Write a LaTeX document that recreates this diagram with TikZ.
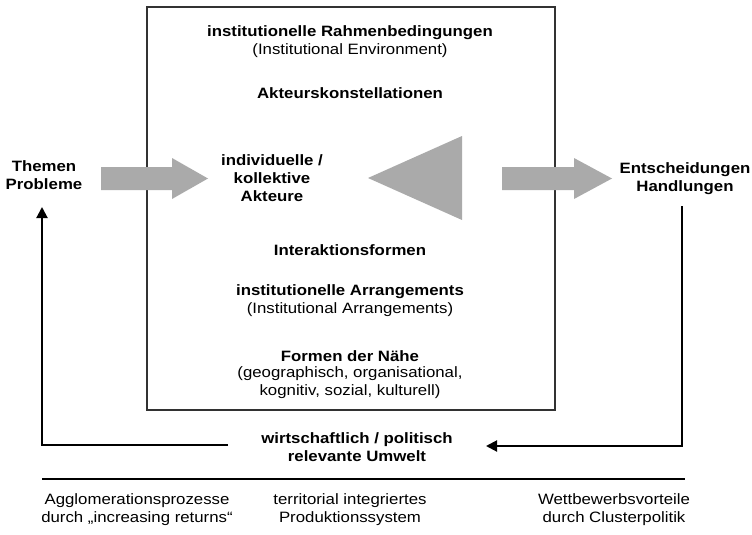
\documentclass[tikz,border=0pt]{standalone}
\usepackage{fontspec}
\setmainfont{Liberation Sans}[FakeStretch=1.12]
\usetikzlibrary{arrows.meta}
\definecolor{arrowgray}{RGB}{170,170,170}
\definecolor{boxline}{RGB}{50,50,50}
\tikzset{
  lbl/.style={align=center, inner sep=0pt, font=\fontsize{15}{18}\selectfont},
  hd/.style={lbl, font=\fontsize{15}{18}\selectfont\bfseries},
  loopline/.style={line width=2pt, -{Triangle[length=11pt,width=11pt]}},
  bigarrow/.style={fill=arrowgray, draw=none}
}
\begin{document}
\begin{tikzpicture}[x=1pt,y=-1pt]
\useasboundingbox (0,0) rectangle (752,535);
% main box
\draw[boxline, line width=1.6pt] (147,7) rectangle (555,410);
% box contents
\node[hd] (rahmen) at (350,33) {institutionelle Rahmenbedingungen};
\node[lbl] (env) at (350,51) {(Institutional Environment)};
\node[hd] (konst) at (350,93) {Akteurskonstellationen};
\node[hd] (akteure) at (272,178) {individuelle /\\kollektive\\Akteure};
\node[hd] (interakt) at (350,250) {Interaktionsformen};
\node[hd] (arr) at (350,292) {institutionelle Arrangements};
\node[lbl] (arren) at (350,310) {(Institutional Arrangements)};
\node[hd] (naehe) at (350,356) {Formen der Nähe};
\node[lbl] (naehe2) at (350,383) {(geographisch, organisational,\\kognitiv, sozial, kulturell)};
% outside
\node[hd] (themen) at (44,175) {Themen\\Probleme};
\node[hd] (entsch) at (685,179) {Entscheidungen\\Handlungen};
\node[hd] (umwelt) at (357,447) {wirtschaftlich / politisch\\relevante Umwelt};
% gray arrows and triangle
\fill[bigarrow] (101,167) -- (172,167) -- (172,158) -- (208,178.5) -- (172,199) -- (172,190) -- (101,190) -- cycle;
\fill[bigarrow] (502,167) -- (574,167) -- (574,158) -- (612,178.5) -- (574,199) -- (574,190) -- (502,190) -- cycle;
\fill[bigarrow] (368,178) -- (462,136) -- (462,220) -- cycle;
% feedback loop
\coordinate (lstart) at (228,445);
\coordinate (lcorner) at (42,445);
\coordinate (lend) at (42,207);
\coordinate (rstart) at (682,206);
\coordinate (rcorner) at (682,446);
\coordinate (rend) at (486,446);
\draw[loopline] (lstart) -- (lcorner) -- (lend);
\draw[loopline] (rstart) -- (rcorner) -- (rend);
% separator
\coordinate (sepl) at (42,479);
\coordinate (sepr) at (685,479);
\draw[line width=2pt] (sepl) -- (sepr);
% bottom texts
\node[lbl] (agglo) at (137,510) {Agglomerationsprozesse\\durch „increasing returns“};
\node[lbl] (terr) at (350,510) {territorial integriertes\\Produktionssystem};
\node[lbl] (wett) at (614,510) {Wettbewerbsvorteile\\durch Clusterpolitik};
\end{tikzpicture}
\end{document}
